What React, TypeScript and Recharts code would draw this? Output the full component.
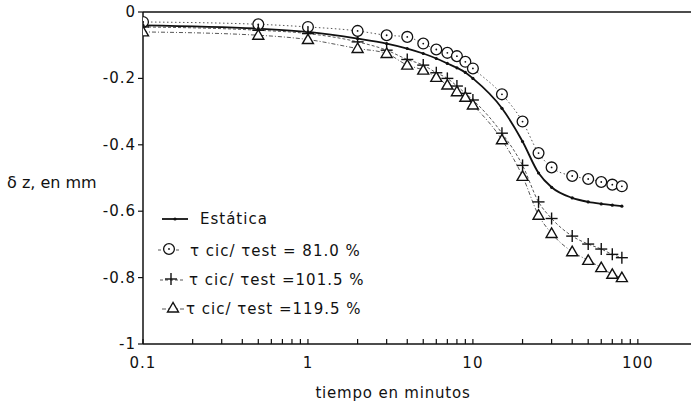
import React from 'react';
import { LineChart, Line, XAxis, YAxis, ReferenceLine } from 'recharts';

// tiempo (min) de cada lectura
const times = [0.1, 0.5, 1, 2, 3, 4, 5, 6, 7, 8, 9, 10, 15, 20, 25, 30, 40, 50, 60, 70, 80];

// asentamiento δz (mm)
const estatica = [-0.04, -0.05, -0.06, -0.08, -0.095, -0.11, -0.125, -0.14, -0.155, -0.168, -0.182, -0.2, -0.29, -0.39, -0.485, -0.528, -0.56, -0.572, -0.578, -0.582, -0.585];
const ciclica81 = [-0.03, -0.037, -0.045, -0.057, -0.07, -0.075, -0.095, -0.113, -0.123, -0.133, -0.15, -0.17, -0.248, -0.33, -0.425, -0.468, -0.494, -0.503, -0.512, -0.52, -0.525];
const ciclica101 = [-0.045, -0.055, -0.065, -0.09, -0.115, -0.143, -0.16, -0.183, -0.2, -0.223, -0.245, -0.265, -0.365, -0.462, -0.572, -0.622, -0.675, -0.699, -0.714, -0.73, -0.74];
const ciclica119 = [-0.06, -0.07, -0.083, -0.11, -0.125, -0.16, -0.175, -0.197, -0.22, -0.24, -0.257, -0.28, -0.385, -0.495, -0.612, -0.667, -0.722, -0.748, -0.77, -0.79, -0.8];

const xTicks = [0.1, 0.2, 0.3, 0.4, 0.5, 0.6, 0.7, 0.8, 0.9, 1, 2, 3, 4, 5, 6, 7, 8, 9, 10, 20, 30, 40, 50, 60, 70, 80, 90, 100];
const xLabels = [0.1, 1, 10, 100];
const yTicks = [0, -0.2, -0.4, -0.6, -0.8, -1];

const data = times.map((t, i) => ({
  t,
  est: estatica[i],
  c81: ciclica81[i],
  c101: ciclica101[i],
  c119: ciclica119[i],
}));

const INK = '#111';
const FONT = '"DejaVu Sans", Verdana, sans-serif';

const SmallDot = (p: any) => {
  if (p.cx == null) return null;
  return <circle key={`e-${p.index}`} cx={p.cx} cy={p.cy} r={1.6} fill={INK} />;
};

const CircleMark = ({ cx, cy }: { cx: number; cy: number }) => (
  <g>
    <circle cx={cx} cy={cy} r={5.4} fill="#fff" stroke={INK} strokeWidth={1.3} />
    <circle cx={cx} cy={cy} r={0.9} fill={INK} />
  </g>
);

const PlusMark = ({ cx, cy }: { cx: number; cy: number }) => (
  <g stroke={INK} strokeWidth={1.4}>
    <line x1={cx - 6} x2={cx + 6} y1={cy} y2={cy} />
    <line x1={cx} x2={cx} y1={cy - 6} y2={cy + 6} />
  </g>
);

const TriMark = ({ cx, cy }: { cx: number; cy: number }) => (
  <polygon
    points={`${cx},${cy - 5.5} ${cx - 5.5},${cy + 4} ${cx + 5.5},${cy + 4}`}
    fill="#fff"
    stroke={INK}
    strokeWidth={1.4}
  />
);

const XTick = ({ x, y, payload }: any) => {
  const v = payload.value;
  const labeled = xLabels.some(l => Math.abs(l - v) < 1e-9);
  return (
    <g>
      <line x1={x} x2={x} y1={y} y2={y - 5} stroke={INK} strokeWidth={1.2} />
      {labeled && (
        <text x={x} y={y + 24} textAnchor="middle" fill={INK} fontSize={15} fontFamily={FONT} letterSpacing={1}>
          {String(v)}
        </text>
      )}
    </g>
  );
};

const YTick = ({ x, y, payload }: any) => (
  <g>
    <line x1={x - 5} x2={x} y1={y} y2={y} stroke={INK} strokeWidth={1.2} />
    <text x={x - 7} y={y + 5} textAnchor="end" fill={INK} fontSize={15} fontFamily={FONT} letterSpacing={1}>
      {payload.value === 0 ? '0' : String(payload.value)}
    </text>
  </g>
);

const txt = { fill: INK, fontSize: 15, fontFamily: FONT };

export default function App() {
  return (
    <div style={{ position: 'absolute', left: 0, top: 0, width: 691, height: 407, background: '#fff' }}>
      <LineChart width={691} height={407} data={data} margin={{ top: 12, right: 0, bottom: 0, left: 0 }}>
        <XAxis
          dataKey="t"
          type="number"
          scale="log"
          domain={[0.1, 210]}
          allowDataOverflow
          ticks={xTicks}
          interval={0}
          tick={<XTick />}
          tickLine={false}
          tickSize={0}
          tickMargin={0}
          height={63}
          axisLine={{ stroke: INK, strokeWidth: 1.5 }}
        />
        <YAxis
          type="number"
          domain={[-1, 0]}
          ticks={yTicks}
          interval={0}
          tick={<YTick />}
          tickLine={false}
          tickSize={0}
          tickMargin={0}
          width={143}
          axisLine={{ stroke: INK, strokeWidth: 1.5 }}
        />
        <ReferenceLine y={0} stroke={INK} strokeWidth={1.5} />
        <Line
          dataKey="c81"
          type="monotone"
          stroke="#444"
          strokeWidth={0.9}
          strokeDasharray="1.5 2.5"
          isAnimationActive={false}
          dot={(p: any) => <CircleMark key={`c-${p.index}`} cx={p.cx} cy={p.cy} />}
        />
        <Line
          dataKey="c101"
          type="monotone"
          stroke="#444"
          strokeWidth={0.9}
          strokeDasharray="3 2"
          isAnimationActive={false}
          dot={(p: any) => <PlusMark key={`p-${p.index}`} cx={p.cx} cy={p.cy} />}
        />
        <Line
          dataKey="c119"
          type="monotone"
          stroke="#444"
          strokeWidth={0.9}
          strokeDasharray="4 2 1 2"
          isAnimationActive={false}
          dot={(p: any) => <TriMark key={`t-${p.index}`} cx={p.cx} cy={p.cy} />}
        />
        <Line
          dataKey="est"
          type="monotone"
          stroke={INK}
          strokeWidth={1.8}
          isAnimationActive={false}
          dot={SmallDot}
        />
      </LineChart>

      <svg width={691} height={407} style={{ position: 'absolute', left: 0, top: 0, pointerEvents: 'none' }}>
        <text x={7} y={188} {...txt} fontSize={16}>δ z, en mm</text>
        <text x={393} y={398} textAnchor="middle" {...txt} letterSpacing={0.8}>tiempo en minutos</text>

        {/* leyenda */}
        <line x1={162} x2={188} y1={219} y2={219} stroke={INK} strokeWidth={1.8} />
        <circle cx={175} cy={219} r={1.6} fill={INK} />
        <text x={200} y={224} {...txt} letterSpacing={1}>Estática</text>

        <line x1={158} x2={182} y1={250} y2={250} stroke="#444" strokeWidth={0.9} strokeDasharray="3 3" />
        <CircleMark cx={169} cy={249} />
        <text x={190} y={256} {...txt} letterSpacing={1}>τ cic/ τest = 81.0 %</text>

        <line x1={160} x2={184} y1={280} y2={280} stroke="#444" strokeWidth={0.9} strokeDasharray="3 2" />
        <PlusMark cx={171} cy={279} />
        <text x={189} y={285} {...txt} letterSpacing={1}>τ cic/ τest =101.5 %</text>

        <line x1={162} x2={186} y1={309} y2={309} stroke="#444" strokeWidth={0.9} strokeDasharray="4 2 1 2" />
        <TriMark cx={173} cy={308} />
        <text x={186} y={314} {...txt} letterSpacing={1}>τ cic/ τest =119.5 %</text>
      </svg>
    </div>
  );
}
